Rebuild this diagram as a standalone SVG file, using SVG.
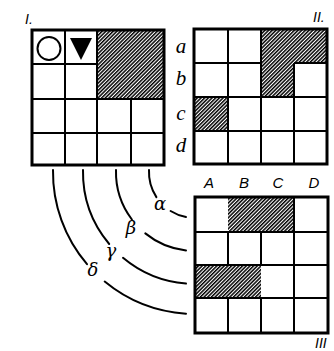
<svg xmlns="http://www.w3.org/2000/svg" width="334" height="351" viewBox="0 0 334 351">
<defs>
<pattern id="hatch" patternUnits="userSpaceOnUse" width="2.6" height="2.6" patternTransform="rotate(45)">
<rect x="0" y="0" width="1.5" height="2.6" fill="#000"/>
</pattern>
<style>
.hatch{fill:url(#hatch)}
.outer{fill:none;stroke:#000;stroke-width:3}
.inner{fill:none;stroke:#000;stroke-width:2}
.arc{fill:none;stroke:#000;stroke-width:2;stroke-linecap:round}
.roman{font-family:"Liberation Sans",sans-serif;font-style:italic;font-size:14px;fill:#000}
.row{font-family:"Liberation Serif",serif;font-style:italic;font-size:21px;fill:#000;text-anchor:middle}
.col{font-family:"Liberation Sans",sans-serif;font-style:italic;font-size:15px;fill:#000;text-anchor:middle}
.greek{font-family:"DejaVu Serif",serif;font-style:italic;font-size:18px;fill:#000;text-anchor:middle}
</style>
</defs>
<rect width="334" height="351" fill="#fff"/>

<g id="grid-I">
<rect class="hatch" x="97" y="30" width="67" height="69"/>
<path class="inner" d="M65,30V165M97,30V165M131,99V165M32,64H97M32,99H164M32,133H164"/>
<rect class="outer" x="32" y="30" width="132" height="135"/>
<circle cx="49" cy="48.5" r="11.5" fill="none" stroke="#000" stroke-width="2"/>
<polygon points="70,38 92,38 81,60" fill="#000"/>
<text class="roman" x="25" y="24">I.</text>
</g>

<g id="grid-II">
<rect class="hatch" x="261" y="29" width="66" height="34"/>
<rect class="hatch" x="261" y="63" width="33" height="34"/>
<rect class="hatch" x="194" y="97" width="34" height="34"/>
<path class="inner" d="M228,29V164M261,29V164M294,63V164M194,63H261M294,63H327M194,97H327M194,131H327"/>
<rect class="outer" x="194" y="29" width="133" height="135"/>
<text class="roman" x="313" y="22" font-size="12">II.</text>
<text class="row" x="181" y="53">a</text>
<text class="row" x="181" y="85">b</text>
<text class="row" x="181" y="120">c</text>
<text class="row" x="181" y="152">d</text>
</g>

<g id="grid-III">
<rect class="hatch" x="228" y="197" width="66" height="35"/>
<rect class="hatch" x="195" y="265" width="66" height="33"/>
<path class="inner" d="M228,232V265M228,298V333M261,232V265M261,298V333M294,197V333M195,232H328M195,265H328M195,298H328"/>
<rect class="outer" x="195" y="197" width="133" height="136"/>
<text class="col" x="209" y="188">A</text>
<text class="col" x="244" y="188">B</text>
<text class="col" x="278" y="188">C</text>
<text class="col" x="314" y="188">D</text>
<text class="roman" x="315" y="348" font-size="13">III</text>
</g>

<g id="connectors">
<path class="arc" d="M149,170A46,46 0 0 0 156.4,197.1M170.6,211A46,46 0 0 0 186,217.1"/>
<path class="arc" d="M116,170A79,79 0 0 0 131.9,219.5M145.3,233.4A79,79 0 0 0 186,250.5"/>
<path class="arc" d="M83,170A112,112 0 0 0 109.2,244M123,257.8A112,112 0 0 0 186,283.6"/>
<path class="arc" d="M53,170A142,142 0 0 0 87,264.2M104.7,281.6A142,142 0 0 0 186,313.7"/>
<text class="greek" x="160" y="210">α</text>
<text class="greek" x="131" y="234">β</text>
<text class="greek" x="111" y="257">γ</text>
<text class="greek" x="93" y="276">δ</text>
</g>
</svg>
